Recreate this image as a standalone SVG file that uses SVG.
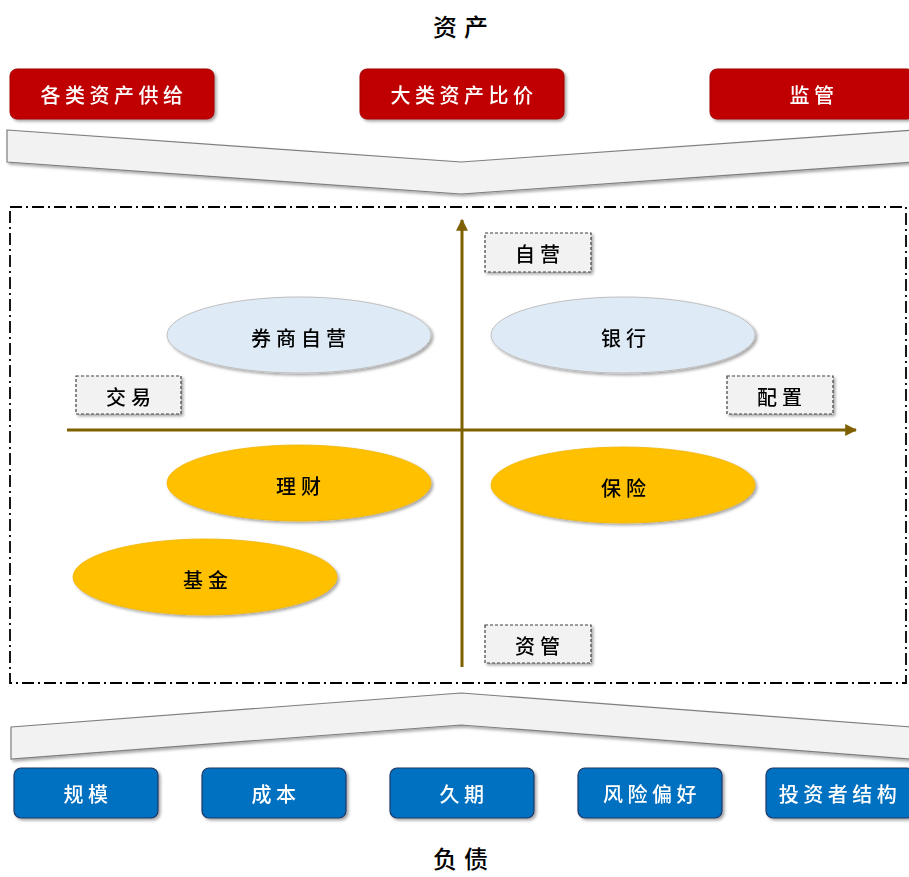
<svg xmlns="http://www.w3.org/2000/svg" width="909" height="877" viewBox="0 0 909 877">
<style>
text{font-family:"Noto Sans CJK SC","Noto Sans",sans-serif;text-anchor:middle;dominant-baseline:central;font-weight:500}
.w{fill:#fff;font-size:20px;letter-spacing:4.5px}
.k{fill:#000;font-size:20px;letter-spacing:5px}
.t{fill:#000;font-size:24px;letter-spacing:7px}
.red{fill:#C00000;stroke:#a00000;stroke-width:1}
.blue{fill:#0070C0;stroke:#1f3864;stroke-width:1.2}
.lab{fill:#f2f2f2;stroke:#404040;stroke-width:1.2;stroke-dasharray:3 2}
.lb{fill:#DEEBF7;stroke:#bfbfbf;stroke-width:1}
.og{fill:#FFC000;stroke:#f0b400;stroke-width:0.8}
.chev{fill:#f2f2f2;stroke:#7f7f7f;stroke-width:1.2}
.axis{stroke:#7F6000;stroke-width:3;fill:none}
</style>
<defs>
<filter id="sh" x="-10%" y="-10%" width="130%" height="140%">
<feDropShadow dx="2" dy="2" stdDeviation="1.5" flood-color="#000" flood-opacity="0.35"/>
</filter>
<marker id="ar" viewBox="0 0 10 10" refX="9" refY="5" markerWidth="4" markerHeight="4" orient="auto" markerUnits="strokeWidth">
<path d="M0,0 L10,5 L0,10 z" fill="#7F6000"/>
</marker>
</defs>

<g id="title-assets"><text class="t" x="464" y="25">资产</text></g>
<line x1="9" y1="56" x2="909" y2="56" stroke="#000" stroke-width="2" filter="url(#sh)"/>

<g id="asset-supply" filter="url(#sh)"><rect class="red" x="10" y="69" width="204" height="50" rx="7"/><text class="w" x="114" y="94">各类资产供给</text></g>
<g id="asset-compare" filter="url(#sh)"><rect class="red" x="360" y="69" width="204" height="50" rx="7"/><text class="w" x="464" y="94">大类资产比价</text></g>
<g id="regulation" filter="url(#sh)"><rect class="red" x="710" y="69" width="204" height="50" rx="7"/><text class="w" x="814" y="94">监管</text></g>

<g id="chevron-down" filter="url(#sh)"><polygon class="chev" points="7,130 461,162 915,130 915,162 461,194 7,162"/></g>

<g id="frame"><rect x="10" y="207" width="896" height="476" fill="none" stroke="#000" stroke-width="1.8" stroke-dasharray="12 4 2 4"/></g>

<g id="connectors">
<line class="axis" x1="462" y1="667" x2="462" y2="220" marker-end="url(#ar)"/>
<line class="axis" x1="67" y1="430" x2="856" y2="430" marker-end="url(#ar)"/>
</g>

<g id="label-ziying" filter="url(#sh)"><rect class="lab" x="485" y="233" width="106" height="39"/><text class="k" x="540" y="253">自营</text></g>
<g id="label-jiaoyi" filter="url(#sh)"><rect class="lab" x="76" y="376" width="105" height="38"/><text class="k" x="131" y="396">交易</text></g>
<g id="label-peizhi" filter="url(#sh)"><rect class="lab" x="727" y="376" width="106" height="38"/><text class="k" x="782" y="396">配置</text></g>
<g id="label-ziguan" filter="url(#sh)"><rect class="lab" x="485" y="625" width="106" height="38"/><text class="k" x="540" y="645">资管</text></g>

<g id="broker" filter="url(#sh)"><ellipse class="lb" cx="299" cy="335" rx="132" ry="38"/><text class="k" x="301" y="337">券商自营</text></g>
<g id="bank" filter="url(#sh)"><ellipse class="lb" cx="623" cy="335" rx="132" ry="38"/><text class="k" x="626" y="337">银行</text></g>
<g id="wealth" filter="url(#sh)"><ellipse class="og" cx="299" cy="483" rx="132" ry="38"/><text class="k" x="301" y="485">理财</text></g>
<g id="insurance" filter="url(#sh)"><ellipse class="og" cx="623" cy="485" rx="132" ry="38"/><text class="k" x="626" y="487">保险</text></g>
<g id="fund" filter="url(#sh)"><ellipse class="og" cx="205" cy="577" rx="132" ry="38"/><text class="k" x="208" y="579">基金</text></g>

<g id="chevron-up" filter="url(#sh)"><polygon class="chev" points="11,727 461,693 911,727 911,759 461,725 11,759"/></g>

<g id="scale" filter="url(#sh)"><rect class="blue" x="14" y="768" width="144" height="50" rx="7"/><text class="w" x="88" y="793">规模</text></g>
<g id="cost" filter="url(#sh)"><rect class="blue" x="202" y="768" width="144" height="50" rx="7"/><text class="w" x="276" y="793">成本</text></g>
<g id="duration" filter="url(#sh)"><rect class="blue" x="390" y="768" width="144" height="50" rx="7"/><text class="w" x="464" y="793">久期</text></g>
<g id="risk" filter="url(#sh)"><rect class="blue" x="578" y="768" width="144" height="50" rx="7"/><text class="w" x="652" y="793">风险偏好</text></g>
<g id="investor" filter="url(#sh)"><rect class="blue" x="766" y="768" width="148" height="50" rx="7"/><text class="w" x="840" y="793">投资者结构</text></g>

<line x1="9" y1="828" x2="909" y2="828" stroke="#000" stroke-width="2" filter="url(#sh)"/>
<g id="title-liab"><text class="t" x="464" y="857">负债</text></g>
</svg>
